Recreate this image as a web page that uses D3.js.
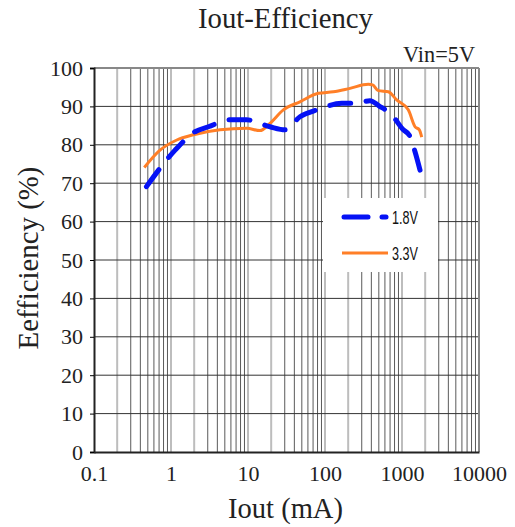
<!DOCTYPE html>
<html><head><meta charset="utf-8">
<script src="https://cdn.jsdelivr.net/npm/d3@7"></script>
<style>body{margin:0;background:#fff}
.serif{font-family:"Liberation Serif","Times New Roman",serif}
.sans{font-family:"Liberation Sans Narrow","Liberation Sans",Arial,sans-serif}
</style>
</head><body>
<script>
const xTicks = [0.1, 1, 10, 100, 1000, 10000];
const yTicks = [0,10,20,30,40,50,60,70,80,90,100];
const s18x = [0.48,0.84,1.13,2.05,3.06,5.83,9.6,19.3,30.2,47.3,81.8,165,258,384,507,735,1040,1245,1476,1715];
const s18y = [69.1,75.6,78.6,83.4,84.7,86.5,86.5,84.7,83.9,87.3,89.2,90.8,90.8,91.5,90.1,87.8,83.9,82.5,78.2,73.4];
const s33x = [0.45,0.72,1.19,1.95,4.33,9.6,14.3,19.3,28.8,47.3,81.8,128,211,365,416,492,664,853,1207,1476,1680,1803];
const s33y = [74.1,78.6,81.25,82.6,83.9,84.3,83.7,85.6,89.1,91.2,93.4,93.8,94.7,95.75,95.6,94.1,93.8,91.7,89.1,84.7,83.9,82];
const seriesNames = ["1.8V","3.3V"];

const W=515,H=527, L=94,R=479,T=68,B=452;
const svg=d3.select("body").append("svg").attr("width",W).attr("height",H);
const x=d3.scaleLog().domain([0.1,10000]).range([L,R]);
const y=d3.scaleLinear().domain([0,100]).range([B,T]);

function fitW(sel,w){const n=sel.node();const cw=n.getComputedTextLength();const fs=parseFloat(sel.style("font-size"));sel.style("font-size",(fs*w/cw)+"px");}

// vertical grid
const minor=[];
for(let e=-1;e<4;e++) for(let k=1;k<=9;k++){const v=k*Math.pow(10,e); if(v>0.1) minor.push({v,k});}
svg.append("g").selectAll("line").data(minor).join("line")
 .attr("x1",d=>x(d.v)).attr("x2",d=>x(d.v)).attr("y1",T).attr("y2",B)
 .attr("stroke",d=>d.k<=2?"#bdbdbd":"#5a5a5a").attr("stroke-width",d=>d.k<=2?2:1);
// horizontal grid
svg.append("g").selectAll("line").data(yTicks.slice(1)).join("line")
 .attr("x1",L).attr("x2",R).attr("y1",d=>y(d)).attr("y2",d=>y(d))
 .attr("stroke",d=>d===100?"#888":"#333").attr("stroke-width",1);
svg.append("line").attr("x1",R).attr("x2",R).attr("y1",T).attr("y2",B).attr("stroke","#888").attr("stroke-width",2);
svg.append("line").attr("x1",L).attr("x2",R).attr("y1",T).attr("y2",T).attr("stroke","#888").attr("stroke-width",2);

// axes
const ya=svg.append("g").attr("transform",`translate(${L},0)`).call(d3.axisLeft(y).tickValues(yTicks).tickSize(4).tickPadding(7));
ya.attr("font-family",null).attr("font-size",null);
ya.select(".domain").attr("stroke","#222").attr("stroke-width",2);
ya.selectAll("text").attr("class","serif").style("font-family","'Liberation Serif','Times New Roman',serif").style("font-size","22px").attr("fill","#222");
const xa=svg.append("g").attr("transform",`translate(0,${B})`).call(d3.axisBottom(x).tickValues(xTicks).tickFormat(d=>String(d)).tickSize(0).tickPadding(12));
xa.attr("font-family",null).attr("font-size",null);
xa.select(".domain").attr("stroke","#222").attr("stroke-width",2);
xa.selectAll("text").attr("class","serif").style("font-family","'Liberation Serif','Times New Roman',serif").style("font-size","22px").attr("fill","#222").attr("dy",null).attr("y",29);

// legend box
svg.append("rect").attr("x",323).attr("y",198).attr("width",115).attr("height",74).attr("fill","#fff");

const line=d3.line().x(d=>x(d[0])).y(d=>y(d[1])).curve(d3.curveMonotoneX);
const d18=s18x.map((v,i)=>[v,s18y[i]]), d33=s33x.map((v,i)=>[v,s33y[i]]);
svg.append("path").attr("d",line(d33)).attr("fill","none").attr("stroke","#ff7f27").attr("stroke-width",3);
const bp=svg.append("path").attr("d",line(d18)).attr("fill","none").attr("stroke","#0512f5").attr("stroke-width",5)
 .attr("stroke-linecap","round");
{ const len=bp.node().getTotalLength(), dash=21, n=Math.round((len-dash)/38), per=(len-dash)/n;
  bp.attr("stroke-dasharray",`${dash},${per-dash}`); }

// legend
svg.append("line").attr("x1",344).attr("x2",368).attr("y1",217).attr("y2",217).attr("stroke","#0512f5").attr("stroke-width",5).attr("stroke-linecap","round");
svg.append("line").attr("x1",382).attr("x2",386).attr("y1",217).attr("y2",217).attr("stroke","#0512f5").attr("stroke-width",5).attr("stroke-linecap","round");
svg.append("line").attr("x1",342).attr("x2",388).attr("y1",253).attr("y2",253).attr("stroke","#ff7f27").attr("stroke-width",3);
[[seriesNames[0],224],[seriesNames[1],260]].forEach(([t,yy])=>{
  const g=svg.append("g").attr("transform",`translate(392,${yy})`);
  const tx=g.append("text").attr("class","sans").style("font-size","19px").attr("fill","#111").text(t);
  const cw=tx.node().getComputedTextLength(); g.attr("transform",`translate(392,${yy}) scale(${26/cw},1)`);
});

// titles
const t1=svg.append("text").attr("class","serif").attr("x",285.5).attr("y",28).attr("text-anchor","middle").style("font-size","28px").attr("fill","#222").text("Iout-Efficiency"); fitW(t1,175);
const t2=svg.append("text").attr("class","serif").attr("x",475).attr("y",62).attr("text-anchor","end").style("font-size","22px").attr("fill","#222").text("Vin=5V"); fitW(t2,72);
const t3=svg.append("text").attr("class","serif").attr("x",285.5).attr("y",518).attr("text-anchor","middle").style("font-size","28px").attr("fill","#222").text("Iout (mA)"); fitW(t3,115);
const t4=svg.append("text").attr("class","serif").attr("transform","translate(38,258) rotate(-90)").attr("text-anchor","middle").style("font-size","29px").attr("fill","#222").text("Eefficiency (%)"); fitW(t4,183);
</script>
</body></html>
